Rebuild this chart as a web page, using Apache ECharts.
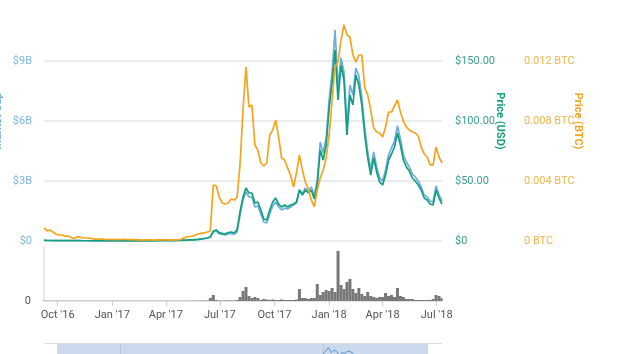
<!DOCTYPE html>
<html>
<head>
<meta charset="utf-8">
<script src="https://cdn.jsdelivr.net/npm/echarts@6/dist/echarts.min.js"></script>
<style>
  html, body { margin: 0; padding: 0; background: #fff; }
  #chart { width: 640px; height: 354px; }
</style>
</head>
<body>
<div id="chart"></div>
<script>
// one sample every 5 days, starting 2016-09-08
const startDate = Date.UTC(2016, 8, 8);
const sampleStep = 5;
const dayCount = 671;

const marketCapB = [
  0.027, 0.024, 0.025, 0.023, 0.021, 0.019, 0.018, 0.017, 0.016, 0.015,
  0.013, 0.014, 0.014, 0.012, 0.012, 0.011, 0.011, 0.01, 0.01, 0.01,
  0.01, 0.009, 0.009, 0.008, 0.008, 0.008, 0.009, 0.009, 0.008, 0.008,
  0.008, 0.008, 0.008, 0.008, 0.009, 0.01, 0.01, 0.011, 0.012, 0.013,
  0.015, 0.017, 0.018, 0.02, 0.023, 0.027, 0.033, 0.042, 0.048, 0.054,
  0.06, 0.07, 0.08, 0.1, 0.12, 0.15, 0.2, 0.45, 0.5, 0.35,
  0.33, 0.3, 0.35, 0.38, 0.33, 0.45, 1.3, 2.05, 2.45, 2.2,
  2.2, 1.7, 1.75, 1.35, 0.95, 0.9, 1.35, 1.75, 1.95, 1.7,
  1.55, 1.65, 1.6, 1.7, 1.8, 1.9, 2.55, 2.35, 2.65, 2.5,
  2.7, 2.25, 3.05, 4.95, 4.4, 5.15, 7.05, 8.45, 10.55, 7.65,
  9.15, 8.45, 5.8, 7.8, 7.3, 8.65, 8.25, 7.2, 5.65, 4.45,
  3.55, 4.45, 3.7, 3.15, 3.0, 3.55, 4.3, 4.65, 5.0, 5.75,
  5.1, 4.3, 3.95, 3.7, 3.35, 3.2, 3.0, 2.7, 2.3, 2.2,
  2.0, 1.95, 2.75, 2.3, 2.0
];

const priceUsd = [
  0.45, 0.4, 0.42, 0.38, 0.35, 0.32, 0.3, 0.28, 0.27, 0.25,
  0.22, 0.24, 0.23, 0.2, 0.2, 0.19, 0.18, 0.17, 0.17, 0.16,
  0.16, 0.15, 0.15, 0.14, 0.14, 0.14, 0.15, 0.15, 0.14, 0.14,
  0.14, 0.13, 0.13, 0.14, 0.15, 0.16, 0.17, 0.18, 0.2, 0.22,
  0.25, 0.28, 0.3, 0.33, 0.38, 0.45, 0.55, 0.7, 0.8, 0.9,
  1.0, 1.2, 1.4, 1.7, 2.1, 2.5, 3.3, 8.3, 9.2, 6.7,
  6.3, 5.8, 7.1, 7.5, 6.7, 9.2, 24.2, 36.7, 44.2, 40,
  40, 31.7, 32.5, 25.8, 18.3, 17.5, 25.8, 32.5, 35.8, 30.8,
  28.3, 30, 28.3, 30, 30.8, 32.5, 42.5, 38.3, 42.5, 40,
  42.5, 35, 46.7, 75.8, 67.5, 80, 110.8, 131.7, 159.2, 117.5,
  146.7, 134.2, 88.3, 121.7, 113.3, 138.3, 130, 113.3, 88.3, 69.2,
  55, 69.2, 57.5, 49.2, 46.7, 55, 67.5, 72.5, 78.3, 90,
  80, 67.5, 61.7, 58.3, 52.5, 50, 46.7, 42.5, 35.8, 34.2,
  30.8, 30, 42.5, 35.8, 30.8
];

const priceBtc = [
  0.00087, 0.00067, 0.00073, 0.0006, 0.00047, 0.0004, 0.0004, 0.00033, 0.00033, 0.00027,
  0.00013, 0.00027, 0.00027, 0.0002, 0.0002, 0.0002, 0.00017, 0.00013, 0.00013, 0.00013,
  0.00013, 0.0001, 0.00011, 0.0001, 0.00009, 0.0001, 0.0001, 0.00011, 0.0001, 0.00009,
  0.0001, 0.00007, 0.00007, 0.00006, 0.00007, 0.00008, 0.00007, 0.00006, 0.00007, 0.00007,
  0.00008, 0.00007, 0.00007, 0.00006, 0.00007, 0.00008, 0.0001, 0.0002, 0.00027, 0.0003,
  0.00033, 0.0004, 0.00047, 0.00053, 0.00053, 0.0006, 0.00067, 0.00373, 0.00367, 0.00293,
  0.00253, 0.00247, 0.00253, 0.0028, 0.00273, 0.00293, 0.00507, 0.00873, 0.0116, 0.00893,
  0.00907, 0.0064, 0.00607, 0.0052, 0.005, 0.0052, 0.00707, 0.0074, 0.00807, 0.00693,
  0.00553, 0.0054, 0.00487, 0.0044, 0.0036, 0.00453, 0.00573, 0.00473, 0.00393, 0.00347,
  0.00273, 0.00227, 0.0034, 0.0042, 0.00473, 0.00553, 0.00707, 0.0094, 0.0116, 0.01193,
  0.0134, 0.0144, 0.01373, 0.0136, 0.0124, 0.01193, 0.0124, 0.0124, 0.0102, 0.00973,
  0.00873, 0.00753, 0.00727, 0.0072, 0.00693, 0.0076, 0.0086, 0.0086, 0.009, 0.0094,
  0.0086, 0.008, 0.0076, 0.0074, 0.00727, 0.0072, 0.007, 0.00627, 0.0058, 0.0056,
  0.00507, 0.00507, 0.00627, 0.0056, 0.0052
];

const volumeM = [
  2, 2, 2, 2, 2, 2, 2, 2, 2, 2,
  2, 2, 2, 2, 2, 2, 2, 2, 2, 2,
  2, 2, 2, 2, 2, 2, 2, 2, 2, 2,
  2, 2, 2, 2, 2, 2, 2, 2, 2, 2,
  2, 2, 2, 2, 2, 2, 2, 2, 2, 2,
  3, 3, 3, 4, 4, 5, 30, 60, 10, 5,
  5, 5, 6, 5, 5, 10, 40, 100, 140, 50,
  30, 40, 30, 10, 20, 15, 10, 15, 10, 10,
  15, 10, 10, 10, 10, 15, 120, 30, 30, 20,
  30, 30, 170, 60, 90, 110, 100, 130, 90, 500,
  160, 120, 190, 220, 120, 80, 130, 70, 50, 90,
  50, 40, 30, 40, 40, 80, 50, 60, 40, 130,
  50, 40, 20, 20, 20, 10, 10, 10, 10, 10,
  10, 20, 60, 50, 30
];

const monthNames = ['Jan', 'Feb', 'Mar', 'Apr', 'May', 'Jun', 'Jul', 'Aug', 'Sep', 'Oct', 'Nov', 'Dec'];

const COLOR_CAP = '#6aaedb';
const COLOR_USD = '#139e80';
const COLOR_BTC = '#f5a41c';

// daily categories, samples placed on their own day
const dates = [];
for (let d = 0; d < dayCount; d++) {
  dates.push(new Date(startDate + d * 86400000).toISOString().slice(0, 10));
}
const toDaily = (arr) => {
  const out = new Array(dayCount).fill(null);
  arr.forEach((v, i) => { out[i * sampleStep] = v; });
  return out;
};

const isQuarterStart = (idx) => {
  const s = dates[idx];
  return s.slice(8) === '01' && ['01', '04', '07', '10'].includes(s.slice(5, 7));
};
const isYearStart = (idx) => dates[idx].slice(5) === '01-01';

const labelFont = { fontFamily: 'Roboto', fontSize: 11 };
const nameFont = { fontFamily: 'Roboto', fontSize: 11, fontWeight: 'bold' };

const chart = echarts.init(document.getElementById('chart'));

const option = {
  backgroundColor: '#fff',
  animation: false,
  graphic: [{
    type: 'line',
    shape: { x1: 44, y1: 343.5, x2: 442, y2: 343.5 },
    style: { stroke: '#dddddd', lineWidth: 1 }
  }],
  grid: [
    { left: 44, right: 198, top: 1, height: 240, outerBoundsMode: 'none' },
    { left: 44, right: 198, top: 247, height: 54, outerBoundsMode: 'none' },
    { left: 57, right: 212, top: 344, bottom: 0, outerBoundsMode: 'none', show: true, backgroundColor: '#ccd9ed', borderWidth: 0 }
  ],
  xAxis: [
    { type: 'category', gridIndex: 0, data: dates, boundaryGap: false, show: false },
    {
      type: 'category',
      gridIndex: 1,
      data: dates,
      boundaryGap: false,
      axisLine: { lineStyle: { color: '#dcdcdc', width: 1.5 } },
      axisTick: { interval: isQuarterStart, length: 5, lineStyle: { color: '#cfcfcf' } },
      axisLabel: {
        ...labelFont,
        color: '#555',
        margin: 9,
        interval: isQuarterStart,
        formatter: (v) => monthNames[+v.slice(5, 7) - 1] + " '" + v.slice(2, 4)
      }
    },
    {
      type: 'category',
      gridIndex: 2,
      data: dates,
      boundaryGap: false,
      axisLine: { show: false },
      axisTick: { show: false },
      axisLabel: { show: false },
      splitLine: { show: true, interval: isYearStart, lineStyle: { color: '#b7c7e0' } }
    }
  ],
  yAxis: [
    {
      type: 'value',
      gridIndex: 0,
      min: 0,
      max: 12,
      interval: 3,
      name: 'Market Cap',
      nameLocation: 'middle',
      nameGap: 40,
      nameRotate: 90,
      nameMoveOverlap: false,
      nameTextStyle: { ...nameFont, color: COLOR_CAP },
      axisLine: { show: false },
      axisTick: { show: false },
      axisLabel: {
        ...labelFont,
        color: '#7cb7dd',
        margin: 12,
        formatter: (v) => (v === 0 ? '$0' : v >= 12 ? '' : '$' + v + 'B')
      },
      splitLine: {
        lineStyle: { color: ['#e4e4e4', '#e4e4e4', '#e4e4e4', '#e4e4e4', 'rgba(0,0,0,0)'], width: 1.5 }
      }
    },
    {
      type: 'value',
      gridIndex: 0,
      position: 'right',
      min: 0,
      max: 200,
      interval: 50,
      name: 'Price (USD)',
      nameLocation: 'middle',
      nameGap: 52,
      nameRotate: -90,
      nameMoveOverlap: false,
      nameTextStyle: { ...nameFont, color: COLOR_USD },
      axisLine: { show: false },
      axisTick: { show: false },
      splitLine: { show: false },
      axisLabel: {
        ...labelFont,
        color: '#3c9f8b',
        margin: 13,
        formatter: (v) => (v === 0 ? '$0' : v >= 200 ? '' : '$' + v.toFixed(2))
      }
    },
    {
      type: 'value',
      gridIndex: 0,
      position: 'right',
      offset: 69,
      min: 0,
      max: 0.016,
      interval: 0.004,
      name: 'Price (BTC)',
      nameLocation: 'middle',
      nameGap: 61,
      nameRotate: -90,
      nameMoveOverlap: false,
      nameTextStyle: { ...nameFont, color: COLOR_BTC },
      axisLine: { show: false },
      axisTick: { show: false },
      splitLine: { show: false },
      axisLabel: {
        ...labelFont,
        color: '#f0b54a',
        margin: 13,
        formatter: (v) => (v === 0 ? '0 BTC' : v >= 0.0159 ? '' : v.toFixed(3) + ' BTC')
      }
    },
    {
      type: 'value',
      gridIndex: 1,
      min: 0,
      max: 540,
      interval: 540,
      axisLine: { show: true, lineStyle: { color: '#e0e0e0', width: 1.5 } },
      axisTick: { show: false },
      splitLine: { show: false },
      axisLabel: {
        ...labelFont,
        color: '#555',
        margin: 13,
        formatter: (v) => (v === 0 ? '0' : '')
      }
    },
    {
      type: 'value',
      gridIndex: 2,
      min: 7,
      max: 12.5,
      show: false
    }
  ],
  series: [
    {
      name: 'Market Cap',
      type: 'line',
      xAxisIndex: 0,
      yAxisIndex: 0,
      data: toDaily(marketCapB),
      connectNulls: true,
      showSymbol: false,
      lineStyle: { color: COLOR_CAP, width: 1.7 },
      itemStyle: { color: COLOR_CAP }
    },
    {
      name: 'Price (USD)',
      type: 'line',
      xAxisIndex: 0,
      yAxisIndex: 1,
      data: toDaily(priceUsd),
      connectNulls: true,
      showSymbol: false,
      lineStyle: { color: COLOR_USD, width: 1.7 },
      itemStyle: { color: COLOR_USD }
    },
    {
      name: 'Price (BTC)',
      type: 'line',
      xAxisIndex: 0,
      yAxisIndex: 2,
      data: toDaily(priceBtc),
      connectNulls: true,
      showSymbol: false,
      lineStyle: { color: COLOR_BTC, width: 1.7 },
      itemStyle: { color: COLOR_BTC }
    },
    {
      name: 'Volume',
      type: 'bar',
      xAxisIndex: 1,
      yAxisIndex: 3,
      data: toDaily(volumeM),
      barWidth: 3,
      itemStyle: { color: '#777777' }
    },
    {
      name: 'Navigator',
      type: 'line',
      xAxisIndex: 2,
      yAxisIndex: 4,
      data: toDaily(marketCapB),
      connectNulls: true,
      showSymbol: false,
      clip: true,
      lineStyle: { color: '#4f94d4', width: 1 }
    }
  ]
};

chart.setOption(option);
</script>
</body>
</html>
